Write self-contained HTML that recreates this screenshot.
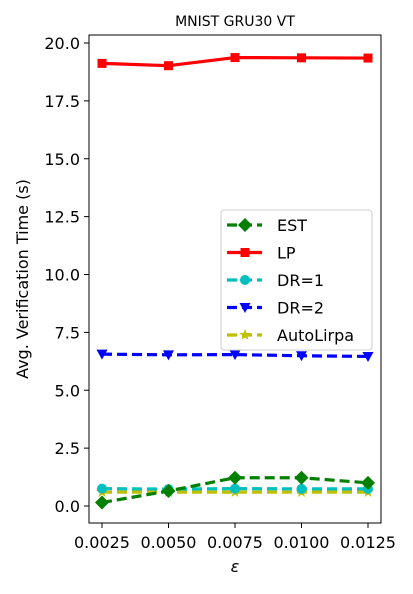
<!DOCTYPE html>
<html><head><meta charset="utf-8"><style>
body{margin:0;background:#fff;font-family:"DejaVu Sans","Liberation Sans",sans-serif}
</style></head><body>
<svg id="chart" width="413" height="590" xmlns="http://www.w3.org/2000/svg" font-family="DejaVu Sans, Liberation Sans, sans-serif">
<text x="235" y="26" font-size="14" text-anchor="middle">MNIST GRU30 VT</text>
<rect x="89" y="35" width="292" height="488" fill="none" stroke="#000" stroke-width="1"/>
<g id="marks"></g>
<g id="axes"></g>
<text x="28" y="279" font-size="16" text-anchor="middle" transform="rotate(-90 28 279)">Avg. Verification Time (s)</text>
<text x="235" y="572" font-size="16" font-style="italic" text-anchor="middle">ε</text>
<g>
<rect x="221" y="210" width="151" height="140" rx="3" fill="#fff" fill-opacity="0.8" stroke="#ccc"/>
</g>
<g id="legend-items"></g>
</svg>
<script>
const xVals=[0.0025,0.005,0.0075,0.01,0.0125];
const xTicks=["0.0025","0.0050","0.0075","0.0100","0.0125"];
const yTicks=[0,2.5,5,7.5,10,12.5,15,17.5,20];
const estVals=[0.15,0.65,1.22,1.22,1.0];
const lpVals=[19.12,19.02,19.37,19.36,19.35];
const dr1Vals=[0.75,0.73,0.75,0.74,0.74];
const dr2Vals=[6.56,6.53,6.54,6.49,6.46];
const autoVals=[0.6,0.6,0.6,0.6,0.6];
const seriesNames=["EST","LP","DR=1","DR=2","AutoLirpa"];
const NS="http://www.w3.org/2000/svg";
const X=v=>102+(v-0.0025)/0.01*266;
const Y=v=>506-v*23.15;
const marks=document.getElementById('marks'),axes=document.getElementById('axes'),leg=document.getElementById('legend-items');
function el(t,a,p){const e=document.createElementNS(NS,t);for(const k in a)e.setAttribute(k,a[k]);p.appendChild(e);return e;}
xVals.forEach((v,i)=>{const x=X(v);
 const t=el('line',{x1:x,x2:x,y1:523,y2:528,stroke:'#000'},axes);
 
 
 const l=el('text',{x:x,y:548,'font-size':16,'text-anchor':'middle'},axes);l.textContent=xTicks[i];
 
 
});
yTicks.forEach(v=>{const y=Y(v);
 const t=el('line',{x1:84,x2:89,y1:y,y2:y,stroke:'#000'},axes);
 
 
 const l=el('text',{x:80,y:y+6,'font-size':16,'text-anchor':'end'},axes);l.textContent=v.toFixed(1);
 
 
});
function marker(type,x,y,c,p){
 if(type==='D')return el('polygon',{points:`${x},${y-7} ${x+7},${y} ${x},${y+7} ${x-7},${y}`,fill:c},p);
 if(type==='s')return el('rect',{x:x-4.5,y:y-4.5,width:9,height:9,fill:c},p);
 if(type==='o')return el('circle',{cx:x,cy:y,r:5,fill:c},p);
 if(type==='v')return el('polygon',{points:`${x-5.5},${y-4.5} ${x+5.5},${y-4.5} ${x},${y+5.5}`,fill:c},p);
 const pts=[];for(let k=0;k<10;k++){const r=k%2?2.4:6,a=-Math.PI/2+k*Math.PI/5;pts.push((x+r*Math.cos(a))+','+(y+r*Math.sin(a)));}
 return el('polygon',{points:pts.join(' '),fill:c},p);
}
const series=[[estVals,'green','D','10,5'],[lpVals,'red','s',''],[dr1Vals,'#00bfbf','o','10,5'],[dr2Vals,'blue','v','10,5'],[autoVals,'#bfbf00','*','10,5']];
const order=[4,2,3,1,0];
order.forEach(si=>{const [vals,c,m,d]=series[si];
 const g=el('g',{},marks);
 
 
 const ln=el('polyline',{points:vals.map((v,i)=>X(xVals[i])+','+Y(v)).join(' '),fill:'none',stroke:c,'stroke-width':3.2,'stroke-dasharray':d},g);
 
 
 vals.forEach((v,i)=>{const mk=marker(m,X(xVals[i]),Y(v),c,g);
  
  });
});
series.forEach((s,i)=>{const y=225+i*27.5;
 const g=el('g',{},leg);
 
 
 el('line',{x1:227,x2:262,y1:y,y2:y,stroke:s[1],'stroke-width':3.2,'stroke-dasharray':s[3]},g);
 marker(s[2],245,y,s[1],g);
 const t=el('text',{x:277,y:y+6,'font-size':16},g);t.textContent=seriesNames[i];
});
</script>
</body></html>
